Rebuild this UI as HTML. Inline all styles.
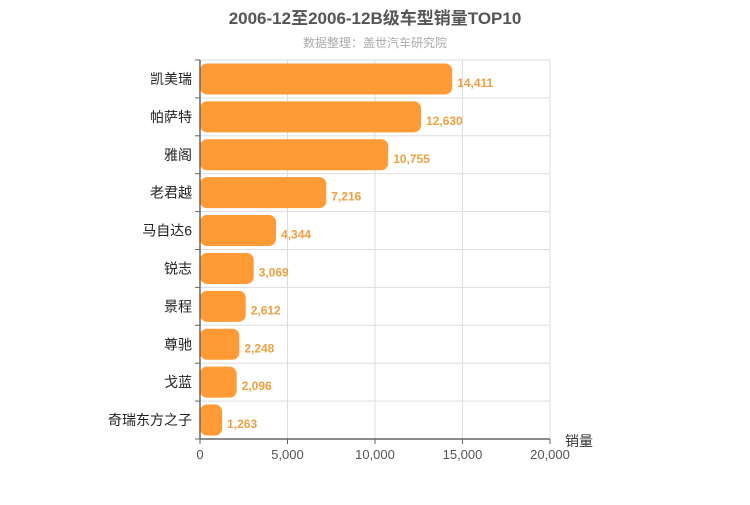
<!DOCTYPE html>
<html><head><meta charset="utf-8"><style>
body{margin:0;background:#fff;font-family:"Liberation Sans","Noto Sans CJK SC",sans-serif}
</style></head><body>
<svg width="750" height="500" id="c" font-family="Liberation Sans, Noto Sans CJK SC, sans-serif">
<text x="375" y="24" text-anchor="middle" font-size="17" font-weight="bold" fill="#555">2006-12至2006-12B级车型销量TOP10</text>
<text x="375" y="47" text-anchor="middle" font-size="12" fill="#aaa">数据整理：盖世汽车研究院</text>
<g id="g"></g>
</svg>
<script>
const categories=["凯美瑞","帕萨特","雅阁","老君越","马自达6","锐志","景程","尊驰","戈蓝","奇瑞东方之子"];
const values=[14411,12630,10755,7216,4344,3069,2612,2248,2096,1263];
const ticks=[0,5000,10000,15000,20000];
const tickLabels=["0","5,000","10,000","15,000","20,000"];
const NS="http://www.w3.org/2000/svg",g=document.getElementById('g');
const x0=200,x1=550,y0=60,y1=439,max=20000;
const xs=v=>x0+(x1-x0)*v/max;
const rh=(y1-y0)/categories.length;
function el(t,a,txt){const e=document.createElementNS(NS,t);for(const k in a)e.setAttribute(k,a[k]);if(txt!=null)e.textContent=txt;g.appendChild(e);return e;}
ticks.forEach((t,i)=>{
 const l=el('line',{x1:xs(t),x2:xs(t),y1:y0,y2:y1,stroke:'#ddd'});
 
 
 const tx=el('text',{x:xs(t),y:y1+20,'text-anchor':'middle','font-size':13,fill:'#555'},tickLabels[i]);
 
 
});
for(let i=0;i<=categories.length;i++){
 const l=el('line',{x1:x0,x2:x1,y1:y0+i*rh,y2:y0+i*rh,stroke:'#ddd'});
 
 
 const tk=el('line',{x1:x0-5,x2:x0,y1:y0+i*rh,y2:y0+i*rh,stroke:'#666'});
 
 
}
categories.forEach((c,i)=>{
 const cy=y0+rh*(i+0.5);
 const b=el('rect',{x:x0,y:cy-15.5,width:xs(values[i])-x0,height:31,rx:7,fill:'#ff9a35'});
 
 
 const lb=el('text',{x:x0-8,y:cy+5,'text-anchor':'end','font-size':14,fill:'#222'},c);
 
 
 const v=el('text',{x:xs(values[i])+5,y:cy+8,'font-size':12,'font-weight':'bold',fill:'#f0a040'},values[i].toLocaleString('en-US'));
 
 
});
const ax=el('line',{x1:x0,x2:x1,y1:y1,y2:y1,stroke:'#666','stroke-width':1.5});


const ay=el('line',{x1:x0,x2:x0,y1:y0,y2:y1,stroke:'#666','stroke-width':1.5});


ticks.forEach(t=>{const k=el('line',{x1:xs(t),x2:xs(t),y1:y1,y2:y1+5,stroke:'#666'});
 
 });
const at=el('text',{x:565,y:446,'font-size':14,fill:'#333'},'销量');


</script>
</body></html>
